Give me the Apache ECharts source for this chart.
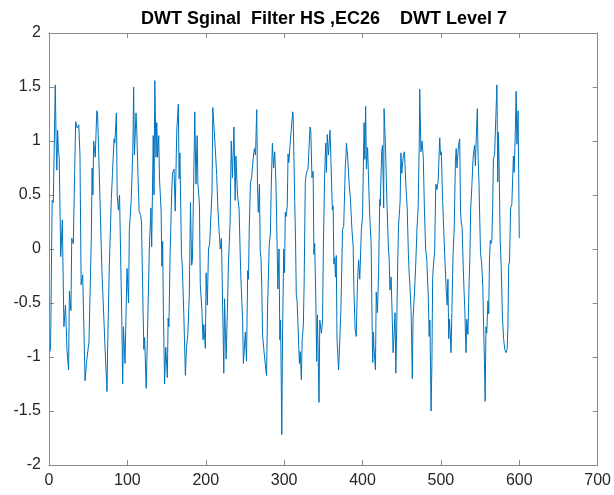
<!DOCTYPE html>
<html><head><meta charset="utf-8">
<script src="https://cdn.jsdelivr.net/npm/echarts@6/dist/echarts.min.js"></script>
<style>html,body{margin:0;padding:0;background:#fff}#c{width:614px;height:495px}</style>
</head><body><div id="c"></div>
<script>
const chartTitle = 'DWT Sginal  Filter HS ,EC26    DWT Level 7';
const sampleIdx = [
1,2,4,5.5,8,9,10,11,12,13,15,17,19,21,23,25,26,28,29,31,34,36,38,39.5,41,43,46,48,51,54,
55,56,57,59,61,62,63,67.5,72,74,75,77,79.5,81,83,84,86,87,88.5,90,92,93,94,95,97,99.5,101.5,102.5,105,107,
108,109,111,112,113.5,115,117,118,120,121,122,124,125.5,128,130,131,133,134,135,136.5,137.5,138.5,140,141,143,144,145,146,147.5,149,
151,152,153,154.5,156.5,157.5,159.5,161,163,165,166,167,169,170,172,174,175.5,177,179,180.5,182,183,186,187.5,189,190,191.5,192,193,195,
196.5,197.5,199.5,200.5,202,203.5,205,208,209,210.5,212,214,215.5,217,218.5,220,221.5,222.5,223,224,226,227.5,229,231,232.5,234,236,237.5,238.5,240.5,
242.5,244.5,246,247,248,249,250.5,252,253.5,254.5,255.5,257,258.5,260.5,262,263.5,265,266,267,268.5,269.5,270.5,271.5,272.5,275,277.5,279,281,282.5,283.5,
285,286.5,288,289.5,290.5,292,293.5,294.5,295.5,297,298,299.5,300.5,301.5,302.5,304,305,306,307.5,309,311,311.5,313.5,314.5,315.5,316.5,317.5,318.5,319.5,320.5,
322,323,324.5,325.5,327,328.5,330.5,333,334,335.5,337,338,339,340.5,341.5,342.5,344.5,345.5,347.5,349,350,351.5,353,354,355,356.5,358.5,360,361.5,362.5,
363.5,364.5,365.5,366.5,367.5,369.5,371,372.5,374.5,376,378,379,379.5,380.5,381,383,384.5,386.5,388,389,390.5,392,393.5,395,396.5,398.5,400,402,403,404,
405,406.5,408,409,410,411,412,413,414,414.5,416.5,417.5,419,420.5,422,422.5,424.5,425.5,427,427.5,429,429.5,431,433,434,435,436.5,438,439,440,
441.5,442.5,443.5,445,446,448,449,450,452,453.5,455.5,457,458.5,459.5,460.5,462,463.5,464.5,466.5,468,469.5,471,472.5,473,474.5,476,477.5,479,480.5,482,
484,485,486,487.5,488.5,489.5,490.5,492,493.5,495,496.5,498.5,499.5,500.5,502,503.5,505.5,507,508,509,510,511,513,514,515.5,517,518.5,519.5,520.5,522.5,
524,525,526,527,528.5,529.5,530.5,532,533,534.5,536,537,538,539.5,541,543,544,545,546.5,547.5,548.5,550.5,552,553.5,554.5,555.5,556.5,557.5,558.5,560,
561,562,563,564,565,566,567,568.5,570,571.5,572.5,573.5,574.5,575.5,577,578.5,580,581.5,583,584.5,585.5,586.5,587.5,589,590.5,592.5,593.5,595,596,597,
598.5,599.3,600
];
const amplitude = [
-0.95,-0.93,0.45,0.43,1.52,1.04,0.73,1.1,0.92,0.85,-0.07,0.27,-0.72,-0.52,-0.94,-1.12,-0.39,-0.57,0.1,0.05,1.18,1.12,1.15,0.87,-0.33,-0.24,-1.22,-1.04,-0.86,0.1,
0.75,0.5,1.0,0.85,1.28,1.25,1.0,-0.2,-1.0,-1.32,-0.83,-0.15,0.46,0.7,1.02,0.98,1.26,0.5,0.36,0.5,-0.3,-0.7,-1.25,-0.72,-1.06,-0.18,-0.5,0.17,0.47,0.93,
1.5,0.87,1.26,1.1,0.69,0.35,0.31,0.25,-0.56,-0.93,-0.82,-1.29,-0.84,0.0,0.38,0.02,1.05,0.5,1.56,0.85,1.17,0.85,1.05,0.65,0.36,-0.16,0.07,-0.6,-1.25,-0.91,
-1.19,-0.64,-0.72,-0.05,0.51,0.7,0.74,0.35,1.09,1.34,0.65,0.89,-0.04,-0.15,-0.6,-1.17,-0.9,-0.8,-0.43,0.43,-0.15,-0.1,1.27,0.6,1.05,0.6,0.46,0.38,-0.33,-0.55,
-0.84,-0.7,-0.92,-0.22,-0.52,0.0,0.05,0.54,1.31,1.13,0.95,0.68,0.37,0.17,0.0,0.1,-0.5,-0.92,-1.15,-0.46,-1.02,-0.6,-0.12,0.23,1.0,0.66,1.13,0.45,0.86,0.5,
0.37,-0.2,-0.48,-0.66,-1.06,-0.95,-0.77,-1.04,-0.2,-0.28,0.19,0.61,0.66,0.84,0.93,0.87,1.29,0.6,0.34,0.6,-0.02,-0.08,-0.37,-0.8,-1.0,-1.17,-0.5,0.04,0.15,0.56,
0.98,0.75,0.9,0.62,0.25,-0.37,0.0,-0.84,-0.66,-1.72,-0.77,0.0,-0.22,0.34,0.3,0.4,0.88,0.8,0.96,1.1,1.27,1.24,0.45,0.1,-0.42,-0.48,-0.66,-0.88,-1.06,-0.95,
-1.21,-0.84,-0.71,-0.33,0.62,0.71,0.74,1.13,1.1,0.66,0.72,-0.05,0.05,-0.5,-1.04,-0.61,-1.42,-0.66,-0.78,-0.67,-0.02,0.63,0.98,0.71,1.06,0.87,1.1,0.75,0.36,0.4,
-0.14,-0.08,-0.26,-0.06,-0.84,-1.12,-0.84,-0.55,0.18,0.21,0.76,0.87,0.98,0.9,0.86,0.59,0.47,0.18,0.03,-0.37,-0.74,-0.81,-0.33,-0.1,-0.28,0.17,0.3,1.17,0.83,1.32,
0.74,0.94,0.57,0.34,0.19,0.05,-0.56,-1.05,-0.77,-0.9,-1.12,-0.4,-0.59,-0.22,0.46,0.4,0.9,0.96,0.38,1.3,1.0,0.9,0.47,0.02,-0.1,-0.38,-0.26,-0.66,-0.96,-0.84,
-0.59,-1.15,-0.78,-0.09,0.22,0.44,0.89,0.7,0.86,0.9,0.56,0.38,-0.04,-0.22,-0.34,-0.58,-1.2,-0.64,-0.38,-0.12,0.19,0.38,1.03,1.48,0.9,1.0,0.85,0.36,0.0,-0.1,
-0.46,-0.81,-0.66,-1.5,-1.07,-0.27,-0.15,-0.03,0.6,0.55,0.63,1.03,0.87,0.9,0.5,0.19,-0.16,-0.41,-0.52,-0.28,-0.83,-0.65,-0.96,-0.59,-0.05,0.19,0.81,0.93,0.75,0.96,
1.02,0.36,0.24,0.21,-0.16,-0.38,-0.56,-0.96,-0.65,-0.79,-0.31,-0.07,0.37,0.58,0.84,0.96,0.77,1.0,1.3,0.85,0.64,-0.03,-0.13,-0.35,-0.72,-1.03,-1.41,-0.72,-0.78,-0.48,
-0.6,-0.1,0.08,0.05,0.08,0.36,0.84,0.87,1.2,1.52,0.62,1.08,0.68,0.12,-0.17,-0.63,-0.83,-0.93,-0.96,-0.93,-0.72,-0.15,-0.12,0.38,0.41,0.86,0.71,1.1,1.46,0.97,
1.28,0.66,0.1
];
const xTicks = [0,100,200,300,400,500,600,700];
const yTicks = [-2,-1.5,-1,-0.5,0,0.5,1,1.5,2];

const FONT = 'Liberation Sans, Arial, Helvetica, sans-serif';
const axisCol = '#8a8a8a';
const labelCol = '#262626';
function mkAxis(type, pos, ticks, showLabel) {
  return {
    type: 'value', position: pos,
    min: ticks[0], max: ticks[ticks.length - 1], interval: ticks[1] - ticks[0],
    axisLine: { show: true, onZero: false, lineStyle: { color: axisCol, width: 1 } },
    axisTick: { show: true, inside: true, length: 5, lineStyle: { color: axisCol, width: 1 } },
    axisLabel: { show: showLabel, color: labelCol, fontSize: 16, fontFamily: FONT, margin: 8,
      formatter: v => String(v) },
    splitLine: { show: false }
  };
}
const chart = echarts.init(document.getElementById('c'));
chart.setOption({
  animation: false,
  backgroundColor: '#fff',
  grid: { left: 49, right: 16, top: 33, bottom: 30, containLabel: false },
  xAxis: [mkAxis('x', 'bottom', xTicks, true), mkAxis('x', 'top', xTicks, false)],
  yAxis: [mkAxis('y', 'left', yTicks, true), mkAxis('y', 'right', yTicks, false)],
  graphic: [{
    type: 'text', x: 324, y: 19,
    style: { text: chartTitle, textAlign: 'center', textVerticalAlign: 'middle',
      font: 'bold 18px ' + FONT, fill: '#000' }
  }],
  series: [{
    type: 'line', xAxisIndex: 0, yAxisIndex: 0,
    data: sampleIdx.map((x, i) => [x, amplitude[i]]),
    showSymbol: false, symbol: 'none',
    lineStyle: { color: '#0072BD', width: 1 },
    silent: true
  }]
});
</script>
</body></html>
